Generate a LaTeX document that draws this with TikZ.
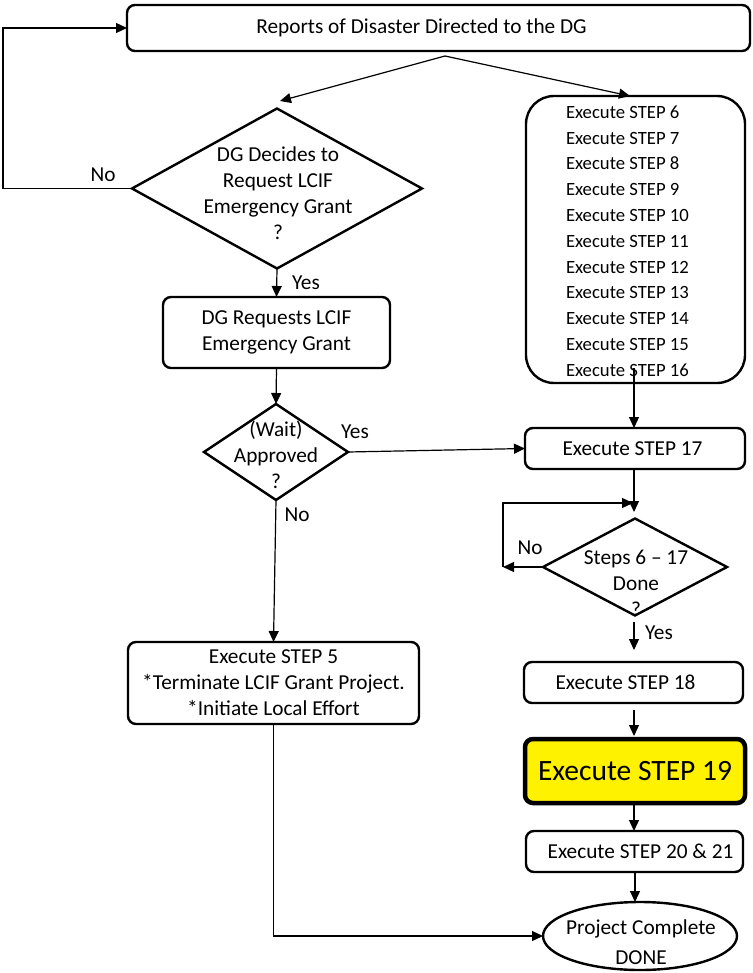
\documentclass[tikz,border=0pt]{standalone}
\usepackage{fontspec}
\setmainfont{Carlito}
\usetikzlibrary{shapes.geometric,arrows.meta,calc}
\begin{document}
\begin{tikzpicture}[x=1pt,y=-1pt,
  every node/.style={font=\fontsize{21.3}{26}\selectfont, inner sep=0pt, outer sep=0pt},
  box/.style={draw, line width=2.4pt, rounded corners=8pt, fill=white, align=center},
  dia/.style={draw, shape=diamond, line width=2.4pt, fill=white},
  oval/.style={draw, shape=ellipse, line width=2.4pt, fill=white},
  txt/.style={align=center},
  conn/.style={line width=1.2pt, -{Triangle[length=11pt,width=10pt]}},
  plain/.style={line width=1.2pt}]
\useasboundingbox (0,0) rectangle (752,973);

% boxes
\node[box, minimum width=623pt, minimum height=46pt] (top) at (438.5,28) {Reports of Disaster Directed to the DG\hspace*{34pt}};
\node[dia, minimum width=290pt, minimum height=160pt] (d1) at (277,188.5) {};
\node[txt] (d1t) at (278,193) {DG Decides to\\Request LCIF\\Emergency Grant\\?};
\node[box, minimum width=227pt, minimum height=71pt] (req) at (276.5,332.5) {DG Requests LCIF\\Emergency Grant};
\node[dia, minimum width=144pt, minimum height=96pt] (d2) at (276,452) {};
\node[txt] (d2t) at (276,455) {(Wait)\\Approved\\?};
\node[box, minimum width=291pt, minimum height=82pt] (s5) at (273.5,683) {Execute STEP 5\\*Terminate LCIF Grant Project.\\*Initiate Local Effort};

\node[box, rounded corners=28pt, minimum width=219pt, minimum height=287pt] (list) at (635.5,239.5) {};
\node[align=left, anchor=west, font=\fontsize{18.7}{25.8}\selectfont] (listt) at (566,241) {Execute STEP 6\\Execute STEP 7\\Execute STEP 8\\Execute STEP 9\\Execute STEP 10\\Execute STEP 11\\Execute STEP 12\\Execute STEP 13\\Execute STEP 14\\Execute STEP 15\\Execute STEP 16};
\node[box, minimum width=220pt, minimum height=41pt] (s17) at (635,448.5) {Execute STEP 17\hspace*{5pt}};
\node[dia, minimum width=184pt, minimum height=97pt] (d3) at (635,567) {};
\node[txt] (d3t) at (636,583) {Steps 6 -- 17\\Done\\?};
\node[box, minimum width=219pt, minimum height=41pt] (s18) at (633.5,682.5) {Execute STEP 18\hspace*{16pt}};
\node[box, line width=4.5pt, fill=yellow, minimum width=220pt, minimum height=64pt, font=\fontsize{29.5}{34}\selectfont] (s19) at (635,771) {Execute STEP 19};
\node[box, minimum width=217pt, minimum height=41pt] (s20) at (634.5,851.5) {\hspace*{12pt}Execute STEP 20 \& 21};
\node[oval, minimum width=194pt, minimum height=68pt] (done) at (640,936) {};
\node[txt] (donet) at (641,942) {Project Complete\\[4pt]DONE};

% coordinates
\coordinate (br) at (445,56);
\coordinate (brL) at (280,101);
\coordinate (brR) at (630,96);
\coordinate (l16) at (634,368);
\coordinate (j17) at (634,512);
\coordinate (lp) at (503,567);
\coordinate (lpt) at (633,503);
\coordinate (fb) at (3,188.5);
\coordinate (ys1) at (634,622);
\coordinate (ys2) at (634,650);

% connectors
\draw[conn] (br) -- (brL);
\draw[conn] (br) -- (brR);
\draw[conn] (d1.west) -- (fb) |- (top.west);
\draw[conn] (d1.south) -- (req.north);
\draw[conn] (req.south) -- (d2.north);
\draw[conn] (d2.east) -- (s17.west);
\draw[conn] (d2.south) -- (s5.north);
\draw[conn] (l16) -- (l16 |- s17.north);
\draw[conn] (s17.south -| j17) -- (j17);
\draw[conn] (d3.west) -- (lp);
\draw[conn] (lp) |- (lpt);
\draw[conn] (ys1) -- (ys2);
\draw[conn, shorten <=7pt, shorten >=3pt] (s18.south -| ys1) -- (s19.north -| ys1);
\draw[conn] (s19.south -| ys1) -- (s20.north -| ys1);
\draw[conn] (s20.south -| 635,0) -- (done.north -| 635,0);
\draw[conn] (s5.south) |- (done.west);

% labels
\node (no1) at (103,175) {No};
\node (yes1) at (306,283) {Yes};
\node (yes2) at (355,432) {Yes};
\node (no2) at (297,515) {No};
\node (no3) at (530,548) {No};
\node (yes3) at (659,633) {Yes};
\end{tikzpicture}
\end{document}
